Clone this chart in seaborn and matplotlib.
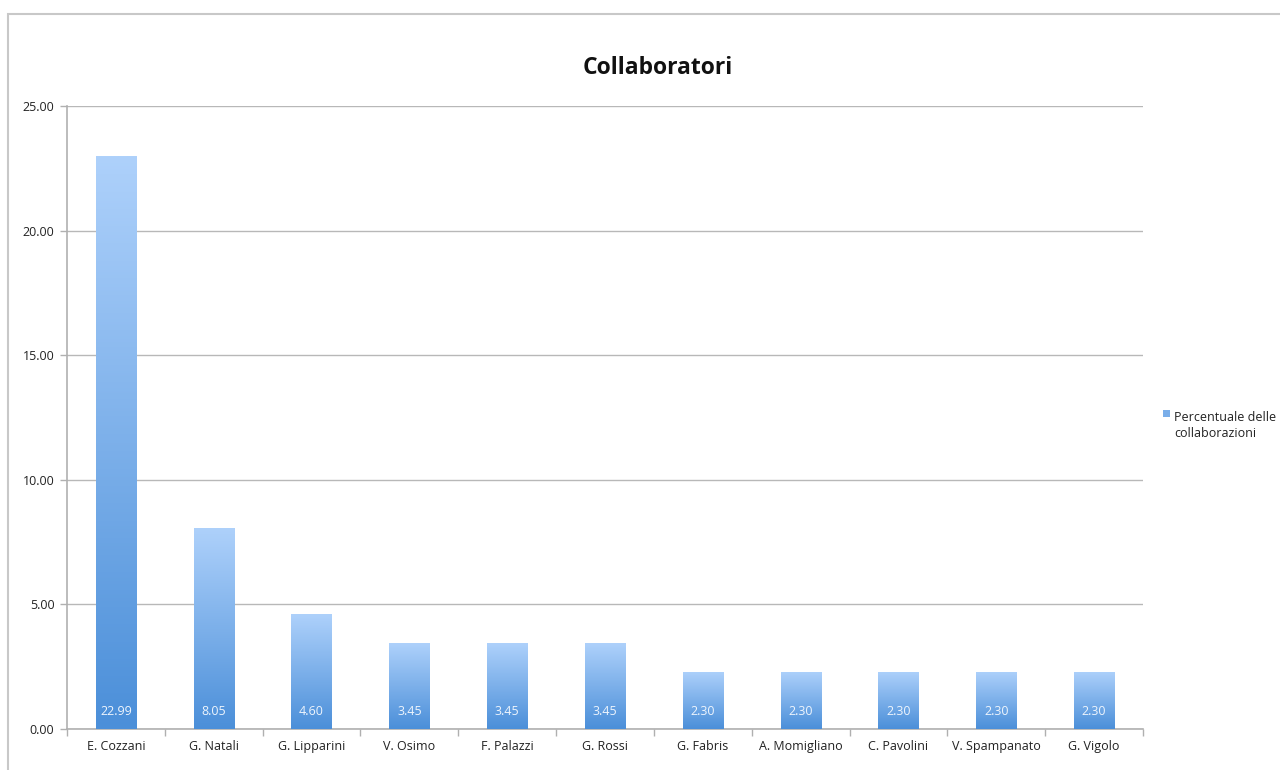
import numpy as np
import pandas as pd
import matplotlib
matplotlib.use("Agg")
import matplotlib.pyplot as plt
import seaborn as sns
from matplotlib.colors import LinearSegmentedColormap
from matplotlib.patches import Rectangle

names = ["E. Cozzani", "G. Natali", "G. Lipparini", "V. Osimo", "F. Palazzi",
         "G. Rossi", "G. Fabris", "A. Momigliano", "C. Pavolini",
         "V. Spampanato", "G. Vigolo"]
percent = [22.99, 8.05, 4.60, 3.45, 3.45, 3.45, 2.30, 2.30, 2.30, 2.30, 2.30]
series_name = "Percentuale delle\ncollaborazioni"
title = "Collaboratori"

df = pd.DataFrame({"name": names, "value": percent})

sns.set_theme(style="white")
plt.rcParams["font.family"] = ["Open Sans", "DejaVu Sans"]

fig = plt.figure(figsize=(12.8, 7.7), dpi=100)
ax = fig.add_axes([0.0523, 0.0532, 0.8407, 0.8091])

sns.barplot(data=df, x="name", y="value", ax=ax, color="#7fb2ee",
            width=0.41, saturation=1, zorder=2)

# vertical gradient fill inside each bar
grad = LinearSegmentedColormap.from_list("bar", ["#4b8fd9", "#aed1fb"])
gimg = np.linspace(0, 1, 256).reshape(-1, 1)
for p, v in zip(ax.patches, percent):
    x0, w = p.get_x(), p.get_width()
    im = ax.imshow(gimg, cmap=grad, origin="lower", aspect="auto",
                   extent=(x0, x0 + w, 0, p.get_height()), zorder=3)
    im.set_clip_path(p)
    p.set_facecolor("none")
    p.set_edgecolor("none")
    ax.text(p.get_x() + w / 2, 0.72, f"{v:.2f}", ha="center", va="center",
            color="#eef5fd", fontsize=9, zorder=4)

ax.set_xlim(-0.5, len(names) - 0.5)
ax.set_ylim(0, 25)
ax.set_yticks(np.arange(0, 25.01, 5))
ax.set_yticklabels([f"{t:.2f}" for t in np.arange(0, 25.01, 5)])
ax.yaxis.grid(True, color="#b8b8b8", linewidth=1.0, zorder=0)
ax.set_axisbelow(True)
ax.set_xlabel("")
ax.set_ylabel("")

for s in ["top", "right"]:
    ax.spines[s].set_visible(False)
for s in ["left", "bottom"]:
    ax.spines[s].set_color("#b0b0b0")
    ax.spines[s].set_linewidth(1.2)

# category ticks sit between bars
ax.set_xticks(np.arange(-0.5, len(names)), minor=True)
ax.tick_params(axis="x", which="major", length=0, labelsize=9,
               labelcolor="#222222", pad=8)
ax.tick_params(axis="x", which="minor", length=5, color="#b0b0b0",
               width=1, bottom=True, direction="out")
ax.tick_params(axis="y", length=5, color="#b0b0b0", width=1, left=True,
               labelsize=9, labelcolor="#222222", pad=4)

fig.text(0.514, 0.912, title, ha="center", va="center", fontsize=16.5,
         fontweight="bold", color="#111111")

# legend entry
fig.patches.append(Rectangle((0.9086, 0.4584), 0.0052, 0.0086,
                             transform=fig.transFigure, facecolor="#7aaee9",
                             edgecolor="none"))
fig.text(0.9172, 0.4665, series_name, ha="left", va="top", fontsize=9,
         color="#222222", linespacing=1.35)

# outer chart frame
fig.patches.append(Rectangle((0.0066, -0.05), 1.1, 1.032,
                             transform=fig.transFigure, facecolor="none",
                             edgecolor="#c8c8c8", linewidth=1.5))

fig.savefig("out.png", dpi=100, facecolor="white")
